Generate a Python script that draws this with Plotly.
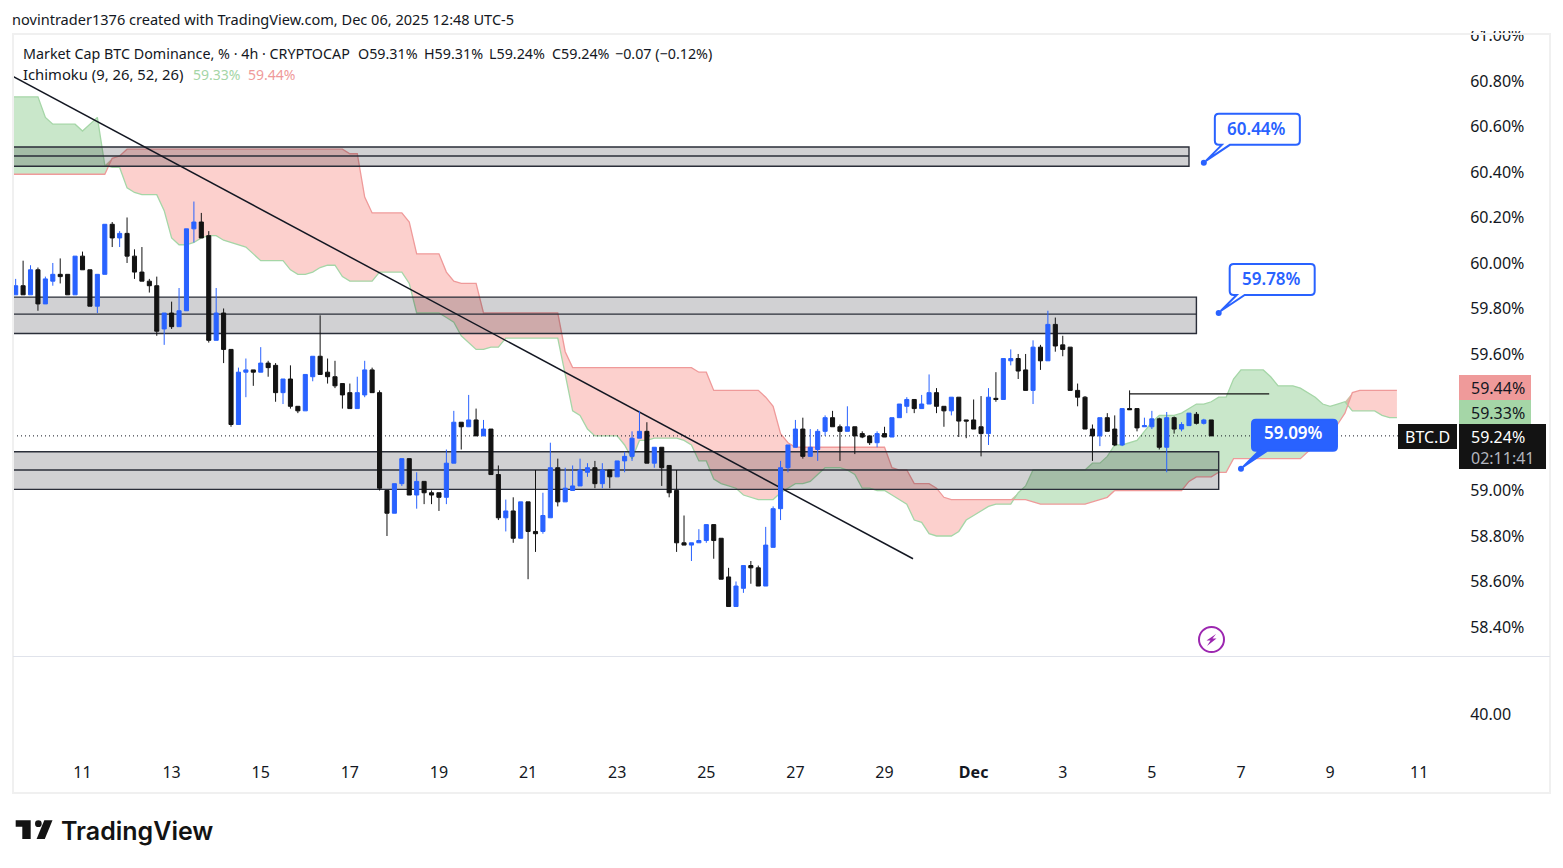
import pandas as pd
import plotly.graph_objects as go

FONT = "Noto Sans"
INK = "#131722"
BLUE = "#2962ff"
BLACK = "#131313"
GREEN_LINE = "#a5d6a7"
RED_LINE = "#ef9a9a"

W, H = 1563, 868
START = pd.Timestamp("2025-11-09 12:00")

opens = [59.86,59.90,59.86,59.97,59.82,59.92,59.95,59.95,59.86,60.03,
         59.97,59.81,59.95,60.17,60.11,60.13,60.03,59.96,59.92,59.90,
         59.71,59.78,59.72,59.79,60.15,60.18,60.12,59.66,59.78,59.62,
         59.29,59.52,59.53,59.52,59.56,59.55,59.43,59.49,59.37,59.35,
         59.50,59.59,59.52,59.50,59.47,59.43,59.36,59.42,59.53,59.43,
         59.00,58.90,59.03,59.14,58.98,59.04,58.99,58.99,58.97,59.12,
         59.30,59.28,59.31,59.24,59.27,59.07,58.88,58.91,58.79,58.95,
         58.82,58.82,58.88,59.10,58.95,59.00,59.02,59.08,59.10,59.03,
         59.09,59.06,59.13,59.15,59.23,59.26,59.12,59.19,59.11,59.00,
         58.77,58.76,58.77,58.78,58.85,58.79,58.62,58.49,58.57,58.67,
         58.66,58.58,58.75,58.92,59.10,59.19,59.27,59.15,59.18,59.26,
         59.32,59.28,59.26,59.28,59.25,59.24,59.21,59.25,59.235,59.32,
         59.37,59.40,59.36,59.38,59.43,59.37,59.35,59.41,59.31,59.31,
         59.28,59.25,59.405,59.40,59.57,59.58,59.53,59.44,59.63,59.57,
         59.73,59.64,59.63,59.44,59.41,59.27,59.24,59.32,59.27,59.20,
         59.36,59.36,59.28,59.28,59.315,59.19,59.32,59.27,59.285,59.335,
         59.295,59.31]
highs = [59.93,60.01,59.99,59.98,59.94,60.00,60.02,59.95,60.03,60.05,
         59.97,59.95,60.17,60.18,60.14,60.20,60.06,60.07,59.93,59.94,
         59.78,59.83,59.89,60.15,60.27,60.22,60.14,59.89,59.80,59.62,
         59.54,59.58,59.53,59.63,59.57,59.56,59.49,59.55,59.37,59.51,
         59.59,59.77,59.58,59.57,59.47,59.47,59.50,59.57,59.54,59.44,
         59.00,59.03,59.14,59.14,59.08,59.04,59.00,58.99,59.18,59.35,
         59.30,59.42,59.36,59.31,59.27,59.11,58.96,58.97,58.95,58.95,
         59.09,58.99,59.21,59.14,59.10,59.11,59.14,59.12,59.13,59.12,
         59.09,59.13,59.17,59.26,59.35,59.30,59.19,59.19,59.11,59.09,
         58.89,58.77,58.83,58.85,58.85,58.79,58.66,58.60,58.67,58.69,
         58.67,58.84,58.93,59.13,59.20,59.31,59.32,59.27,59.27,59.33,
         59.35,59.29,59.37,59.28,59.26,59.24,59.26,59.28,59.32,59.38,
         59.41,59.40,59.42,59.51,59.45,59.37,59.41,59.41,59.31,59.40,
         59.415,59.45,59.52,59.58,59.62,59.60,59.60,59.66,59.64,59.79,
         59.76,59.68,59.63,59.47,59.415,59.29,59.32,59.34,59.33,59.36,
         59.44,59.36,59.32,59.35,59.32,59.345,59.325,59.30,59.34,59.345,
         59.315,59.31]
lows = [59.86,59.86,59.86,59.79,59.82,59.90,59.91,59.86,59.86,59.97,
        59.81,59.78,59.95,60.07,60.07,60.00,59.93,59.92,59.87,59.68,
        59.64,59.71,59.72,59.79,60.09,60.11,59.65,59.66,59.56,59.28,
        59.29,59.41,59.46,59.52,59.50,59.39,59.38,59.36,59.34,59.35,
        59.48,59.51,59.47,59.45,59.36,59.36,59.36,59.41,59.43,59.00,
        58.80,58.90,59.02,58.98,58.92,58.94,58.94,58.91,58.94,59.12,
        59.18,59.28,59.24,59.24,59.07,58.87,58.82,58.77,58.79,58.61,
        58.73,58.81,58.88,58.93,58.95,59.00,59.02,59.06,59.01,59.01,
        59.01,59.06,59.08,59.13,59.23,59.12,59.10,59.02,58.97,58.73,
        58.76,58.69,58.77,58.77,58.70,58.61,58.49,58.49,58.55,58.59,
        58.58,58.58,58.75,58.87,59.08,59.19,59.14,59.15,59.13,59.24,
        59.28,59.13,59.26,59.16,59.23,59.20,59.19,59.235,59.235,59.32,
        59.34,59.34,59.36,59.38,59.34,59.28,59.33,59.235,59.23,59.27,
        59.15,59.20,59.39,59.40,59.55,59.49,59.44,59.38,59.53,59.57,
        59.61,59.59,59.44,59.37,59.27,59.13,59.195,59.26,59.195,59.195,
        59.355,59.26,59.28,59.27,59.18,59.08,59.25,59.26,59.285,59.29,
        59.29,59.24]
closes = [59.90,59.86,59.97,59.82,59.93,59.95,59.94,59.86,60.03,59.97,
          59.81,59.95,60.17,60.11,60.13,60.03,59.96,59.92,59.90,59.70,
          59.78,59.72,59.79,60.15,60.18,60.11,59.66,59.78,59.62,59.29,
          59.52,59.53,59.52,59.56,59.54,59.43,59.49,59.37,59.35,59.51,
          59.59,59.51,59.50,59.46,59.42,59.36,59.43,59.53,59.43,59.01,
          58.90,59.03,59.14,58.98,59.04,58.99,58.98,58.97,59.12,59.30,
          59.28,59.31,59.24,59.27,59.07,58.88,58.91,58.79,58.95,58.82,
          58.81,58.89,59.10,58.95,59.01,59.02,59.09,59.10,59.03,59.09,
          59.06,59.13,59.15,59.23,59.26,59.12,59.19,59.10,58.99,58.77,
          58.76,58.77,58.78,58.85,58.78,58.61,58.49,58.58,58.67,58.66,
          58.58,58.76,58.92,59.10,59.20,59.27,59.15,59.19,59.26,59.32,
          59.28,59.26,59.28,59.24,59.235,59.21,59.25,59.235,59.32,59.38,
          59.40,59.36,59.38,59.43,59.37,59.35,59.41,59.305,59.305,59.27,
          59.25,59.41,59.40,59.58,59.58,59.525,59.44,59.63,59.57,59.73,
          59.635,59.62,59.44,59.41,59.27,59.24,59.32,59.26,59.20,59.36,
          59.355,59.275,59.285,59.315,59.19,59.32,59.27,59.29,59.34,59.295,
          59.31,59.24]

# ichimoku spans, first value sits one bar before the first candle
span_a = ([60.73]*5 + [60.64] + [60.61]*4 +
          [60.58,60.61,60.64,60.43,60.42,60.42,60.33,60.31,60.30,60.30,60.30,60.23,
           60.11,60.08,60.08,60.09,60.11,60.12,60.12,60.10,60.09,60.08,60.07,60.04,
           60.01,60.01,60.01,60.01,59.97,59.95,59.95,59.96,59.98,59.99,59.99,59.94,
           59.92,59.92,59.92,59.92,59.96,59.96,59.96,59.96,59.91] +
          [59.78]*4 + [59.76,59.74,59.68,59.65,59.62,59.62,59.63,59.63] + [59.67]*8 +
          [59.51,59.35,59.33,59.27,59.24,59.24,59.24,59.24,59.20,59.14,59.22,59.22,
           59.23,59.23,59.23,59.23,59.22,59.20,59.13,59.13,59.05,59.03,59.02,59.01,
           58.98,58.97,58.96,58.96,58.96,58.99,59.01,59.03,59.03,59.04,59.07,59.10,
           59.10,59.10,59.09,59.07,59.01,59.01,59.00,59.00,58.98,58.96,58.94,58.87,
           58.86,58.81,58.80,58.80,58.80,58.82,58.87,58.89,58.91,58.93,58.94,58.94,
           58.94,58.99,59.02] + [59.09]*8 +
          [59.12,59.12,59.15,59.20,59.20,59.21,59.22,59.26,59.30,59.33,59.33,59.33,
           59.34,59.36,59.38,59.38,59.39,59.41,59.41,59.49,59.53,59.53,59.53,59.53,
           59.50,59.46,59.46,59.46,59.45,59.43,59.41,59.38,59.37,59.38,59.39,59.35,
           59.35,59.35,59.35,59.33,59.32,59.32])
span_b = ([60.39]*14 + [60.46,60.47] + [60.50]*30 + [60.48,60.48,60.29] + [60.22]*5 +
          [60.18] + [60.04]*4 + [59.96,59.92] + [59.91]*3 + [59.78]*11 + [59.61] +
          [59.54]*17 + [59.52,59.52] + [59.44]*7 + [59.41,59.37,59.25,59.21] +
          [59.19]*13 + [59.10,59.09,59.09,59.03,59.03,59.03,59.01,58.97] + [58.96]*11 +
          [58.95] + [58.94]*7 + [58.95,58.96,58.97] + [59.00]*10 +
          [59.04,59.06,59.06,59.06,59.08,59.08] + [59.14]*10 +
          [59.17,59.19,59.22,59.24,59.29,59.34,59.43] + [59.44]*6)
assert len(span_a) == len(span_b) == 188

# support / resistance zones: top, middle, bottom, bar where they stop
zone_tops = [60.51, 59.85, 59.17]
zone_mids = [60.47, 59.775, 59.09]
zone_bottoms = [60.425, 59.69, 59.005]
zone_end_bars = [158, 159, 162]

trend_bars = [-0.36, 120.84]
trend_prices = [60.82, 58.70]
ray_bars = [150, 168.8]
ray_prices = [59.425, 59.425]

callout_bars = [160, 162, 165]
callout_prices = [60.44, 59.78, 59.095]
callout_labels = ["60.44%", "59.78%", "59.09%"]

last_price = 59.24
tick_prices = [61.0, 60.8, 60.6, 60.4, 60.2, 60.0, 59.8, 59.6, 59.0, 58.8, 58.6, 58.4]
tick_price_text = ["61.00%", "60.80%", "60.60%", "60.40%", "60.20%", "60.00%",
                   "59.80%", "59.60%", "59.00%", "58.80%", "58.60%", "58.40%"]
tick_dates = ["2025-11-11", "2025-11-13", "2025-11-15", "2025-11-17", "2025-11-19",
              "2025-11-21", "2025-11-23", "2025-11-25", "2025-11-27", "2025-11-29",
              "2025-12-01", "2025-12-03", "2025-12-05", "2025-12-07", "2025-12-09",
              "2025-12-11"]
tick_date_text = ["11", "13", "15", "17", "19", "21", "23", "25", "27", "29",
                  "<b>Dec</b>", "3", "5", "7", "9", "11"]


def bar_time(i):
    return START + pd.Timedelta(hours=4 * i)


def px(x, y):
    return f"{x / W:.5f} {1 - y / H:.5f}"


def poly(points):
    return "M " + " L ".join(px(x, y) for x, y in points) + " Z"


def rect_shape(x0, y0, x1, y1, fill, line=None):
    return dict(type="rect", xref="paper", yref="paper", layer="above",
                x0=x0 / W, x1=x1 / W, y0=1 - y0 / H, y1=1 - y1 / H,
                fillcolor=fill, line=dict(width=1 if line else 0, color=line or fill))


def label(x, y, text, size=14, color=INK, anchor="left", weight=None, family=FONT):
    font = dict(family=family, size=size, color=color)
    if weight:
        font["weight"] = weight
    return dict(xref="paper", yref="paper", x=x / W, y=1 - y / H, text=text, showarrow=False,
                xanchor=anchor, yanchor="middle", font=font, borderpad=0)


def bubble_path():
    # offsets in pixels from the dot, y goes up
    l, r, b, t, c = 11, 96, 18, 49, 4
    return (f"M {l + c} {b} L {l + 7} {b} L 2 2 L {l + 15} {b} L {r - c} {b} Q {r} {b} {r} {b + c} "
            f"L {r} {t - c} Q {r} {t} {r - c} {t} L {l + c} {t} Q {l} {t} {l} {t - c} "
            f"L {l} {b + c} Q {l} {b} {l + c} {b} Z")


times = [bar_time(i) for i in range(len(opens))]
cloud_times = [bar_time(i) for i in range(-1, len(span_a) - 1)]
upper = [max(a, b) for a, b in zip(span_a, span_b)]
left_edge = bar_time(-0.36)
right_edge = bar_time(194.36)

fig = go.Figure()

# cloud
fig.add_trace(go.Scatter(x=cloud_times, y=span_b, mode="lines", line=dict(width=0)))
fig.add_trace(go.Scatter(x=cloud_times, y=upper, mode="lines", line=dict(width=0),
                         fill="tonexty", fillcolor="rgba(76,175,80,0.3)"))
fig.add_trace(go.Scatter(x=cloud_times, y=span_a, mode="lines", line=dict(width=0)))
fig.add_trace(go.Scatter(x=cloud_times, y=upper, mode="lines", line=dict(width=0),
                         fill="tonexty", fillcolor="rgba(244,67,54,0.25)"))
fig.add_trace(go.Scatter(x=cloud_times, y=span_a, mode="lines", line=dict(color=GREEN_LINE, width=1.3)))
fig.add_trace(go.Scatter(x=cloud_times, y=span_b, mode="lines", line=dict(color=RED_LINE, width=1.3)))

# zones
for top, mid, bottom, end in zip(zone_tops, zone_mids, zone_bottoms, zone_end_bars):
    end_t = bar_time(end)
    start_t = bar_time(-3)
    fig.add_trace(go.Scatter(x=[start_t, end_t, end_t, start_t, start_t],
                             y=[bottom, bottom, top, top, bottom],
                             mode="lines", fill="toself", fillcolor="rgba(0,0,10,0.18)",
                             line=dict(color="#2a2e39", width=1.4)))
    fig.add_trace(go.Scatter(x=[start_t, end_t], y=[mid, mid], mode="lines",
                             line=dict(color="#2a2e39", width=1.4)))

fig.add_trace(go.Scatter(x=[bar_time(b) for b in trend_bars], y=trend_prices, mode="lines",
                         line=dict(color=INK, width=1.5)))
fig.add_trace(go.Scatter(x=[left_edge, bar_time(186.5)], y=[last_price, last_price], mode="lines",
                         line=dict(color=INK, width=1, dash="1px,3px")))
fig.add_trace(go.Scatter(x=[bar_time(b) for b in ray_bars], y=ray_prices, mode="lines",
                         line=dict(color=BLACK, width=1.2)))

# candles go on an overlaid axis so they stay above the cloud and zones
fig.add_trace(go.Candlestick(x=times, open=opens, high=highs, low=lows, close=closes, yaxis="y3",
                             increasing=dict(line=dict(color=BLUE, width=1), fillcolor=BLUE),
                             decreasing=dict(line=dict(color=BLACK, width=1), fillcolor=BLACK),
                             whiskerwidth=0))
fig.add_trace(go.Scatter(x=[bar_time(b) for b in callout_bars], y=callout_prices, mode="markers",
                         yaxis="y3", marker=dict(color=BLUE, size=6)))
# lower pane only carries its scale
fig.add_trace(go.Scatter(x=[bar_time(170)], y=[40], mode="markers", yaxis="y2",
                         marker=dict(opacity=0)))

shapes = []
annotations = []

# callouts
for bar, price, text, solid, lift in zip(callout_bars, callout_prices, callout_labels,
                                         [False, False, True], [34, 35, 36]):
    shapes.append(dict(type="path", xref="x", yref="y", layer="above",
                       xsizemode="pixel", ysizemode="pixel",
                       xanchor=str(bar_time(bar)), yanchor=price, path=bubble_path(),
                       fillcolor=BLUE if solid else "white", line=dict(color=BLUE, width=2)))
    annotations.append(dict(xref="x", yref="y", x=str(bar_time(bar)), y=price, xshift=53, yshift=lift,
                            text=text, showarrow=False,
                            font=dict(family=FONT, size=17, color="white" if solid else BLUE, weight=600)))

# chart frame, pane divider, clip above the frame
shapes.append(rect_shape(1460, 0, W, 31, "white"))
shapes.append(rect_shape(13, 34, 1550, 793, "rgba(0,0,0,0)", "#f0f0f0"))
shapes[-1]["line"]["width"] = 2
shapes.append(dict(type="line", xref="paper", yref="paper", layer="above",
                   x0=13 / W, x1=1550 / W, y0=1 - 656.5 / H, y1=1 - 656.5 / H,
                   line=dict(color="#e0e3eb", width=1)))

# last value tags on the price scale
shapes.append(rect_shape(1459, 375, 1531, 400, RED_LINE))
shapes.append(rect_shape(1459, 400, 1531, 424, GREEN_LINE))
shapes.append(rect_shape(1398, 424, 1457, 449, BLACK))
shapes.append(rect_shape(1459, 424, 1546, 469, BLACK))
annotations.append(label(1470, 388, "59.44%", size=16))
annotations.append(label(1470, 412.5, "59.33%", size=16))
annotations.append(label(1427.5, 436.5, "BTC.D", size=16, color="white", anchor="center"))
annotations.append(label(1470, 436.5, "59.24%", size=16, color="white"))
annotations.append(label(1470, 457.5, "02:11:41", size=16, color="#b2b5be"))

# news icon
shapes.append(dict(type="circle", xref="paper", yref="paper", layer="above",
                   x0=1199 / W, x1=1224 / W, y0=1 - 627 / H, y1=1 - 652 / H,
                   line=dict(color="#9c27b0", width=2), fillcolor="white"))
shapes.append(dict(type="path", xref="paper", yref="paper", layer="above",
                   path=poly([(1216, 634), (1206.5, 640.5), (1210.5, 640.5), (1207, 646),
                              (1216.5, 638.5), (1212.5, 638.5)]),
                   fillcolor="#9c27b0", line=dict(width=0)))

# logo
shapes.append(dict(type="path", xref="paper", yref="paper", layer="above",
                   path=poly([(15.7, 820.3), (30.7, 820.3), (30.7, 839), (22.3, 839), (22.3, 826.7), (15.7, 826.7)]),
                   fillcolor=BLACK, line=dict(width=0)))
shapes.append(dict(type="circle", xref="paper", yref="paper", layer="above",
                   x0=35 / W, x1=41.7 / W, y0=1 - 820.3 / H, y1=1 - 827 / H,
                   fillcolor=BLACK, line=dict(width=0)))
shapes.append(dict(type="path", xref="paper", yref="paper", layer="above",
                   path=poly([(44.3, 820.3), (52.5, 820.3), (44.8, 839), (36.6, 839)]),
                   fillcolor=BLACK, line=dict(width=0)))
annotations.append(label(60, 831, "TradingView", size=25, color=BLACK, weight=600, family="Inter"))

# header texts
annotations.append(label(11, 19, "novintrader1376 created with TradingView.com, Dec 06, 2025 12:48 UTC-5", size=14.55))
annotations.append(label(22, 53.5, "Market Cap BTC Dominance, % · 4h · CRYPTOCAP", size=14.3))
annotations.append(label(357, 53.5, "O59.31%", size=14.3))
annotations.append(label(423, 53.5, "H59.31%", size=14.3))
annotations.append(label(488, 53.5, "L59.24%", size=14.3))
annotations.append(label(551, 53.5, "C59.24%", size=14.3))
annotations.append(label(614, 53.5, "−0.07 (−0.12%)", size=14.3))
annotations.append(label(22, 74, "Ichimoku (9, 26, 52, 26)", size=14.8))
annotations.append(label(192, 74, "59.33%", color=GREEN_LINE))
annotations.append(label(247, 74, "59.44%", color=RED_LINE))

price_range = [58.2725, 61.002]
fig.update_layout(
    width=W, height=H, autosize=False, showlegend=False, hovermode=False,
    margin=dict(l=0, r=0, t=0, b=0, autoexpand=False), plot_bgcolor="white", paper_bgcolor="white",
    boxgap=0.45, boxgroupgap=0,
    xaxis=dict(domain=[13 / W, 1459 / W], range=[left_edge, right_edge], anchor="y2",
               tickmode="array", tickvals=tick_dates, ticktext=tick_date_text,
               showgrid=False, zeroline=False, showline=False, rangeslider=dict(visible=False),
               ticks="outside", ticklen=8, tickcolor="rgba(0,0,0,0)",
               tickfont=dict(family=FONT, size=16, color=INK)),
    yaxis=dict(domain=[1 - 656 / H, 1 - 35 / H], range=price_range, side="right", anchor="x",
               tickmode="array", tickvals=tick_prices, ticktext=tick_price_text,
               showgrid=False, zeroline=False, showline=False,
               ticks="outside", ticklen=7, tickcolor="rgba(0,0,0,0)",
               tickfont=dict(family=FONT, size=16, color=INK)),
    yaxis3=dict(overlaying="y", range=price_range, visible=False, side="right", anchor="x"),
    yaxis2=dict(domain=[1 - 750 / H, 1 - 657 / H], range=[36.13, 46.13], side="right", anchor="x",
                tickmode="array", tickvals=[40], ticktext=["40.00"],
                showgrid=False, zeroline=False, showline=False,
                ticks="outside", ticklen=7, tickcolor="rgba(0,0,0,0)",
                tickfont=dict(family=FONT, size=16, color=INK)),
    shapes=shapes, annotations=annotations,
)

fig.write_html("out.html", config=dict(displayModeBar=False),
               post_script="document.body.style.margin='0';document.body.style.overflow='hidden';")
